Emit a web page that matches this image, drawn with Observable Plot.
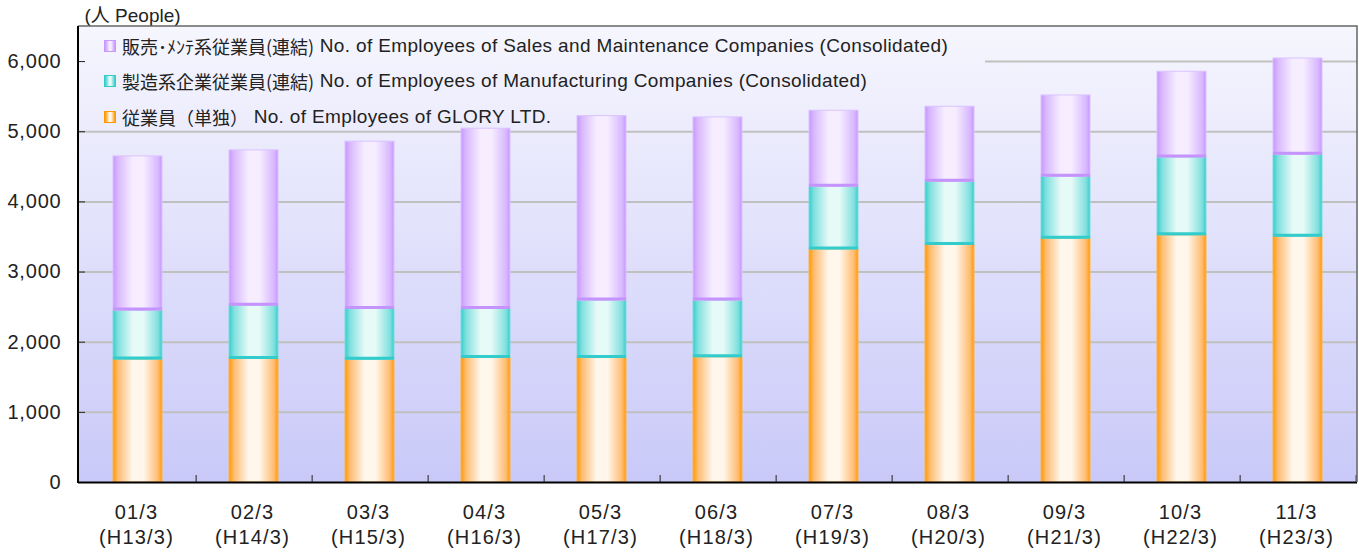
<!DOCTYPE html>
<html><head><meta charset="utf-8">
<script src="https://cdn.jsdelivr.net/npm/d3@7"></script>
<script src="https://cdn.jsdelivr.net/npm/@observablehq/plot@0.6"></script>
<style>
body{margin:0;background:#fff;}
#wrap{position:relative;width:1359px;height:554px;font-family:"Liberation Sans",Arial,"Noto Sans CJK JP",sans-serif;color:#222;}
#wrap svg{position:absolute;left:0;top:0;}
.row{position:absolute;left:104px;height:24px;line-height:24px;white-space:nowrap;font-size:19px;letter-spacing:0.35px;display:flex;align-items:center;}
.sw{width:12px;height:12px;margin-right:6px;box-sizing:border-box;}
.jp{font-family:"Noto Sans CJK JP",sans-serif;font-size:18px;letter-spacing:0;}
</style></head>
<body><div id="wrap"></div>
<script>
const years = ["01/3","02/3","03/3","04/3","05/3","06/3","07/3","08/3","09/3","10/3","11/3"];
const heisei = ["(H13/3)","(H14/3)","(H15/3)","(H16/3)","(H17/3)","(H18/3)","(H19/3)","(H20/3)","(H21/3)","(H22/3)","(H23/3)"];
const single = [1752, 1762, 1748, 1776, 1776, 1785, 3323, 3386, 3476, 3523, 3504];
const manufacturing = [698, 759, 726, 698, 817, 808, 894, 902, 883, 1111, 1168];
const sales = [2198, 2213, 2384, 2569, 2630, 2611, 1082, 1068, 1158, 1221, 1372];
const yTicks = [0, 1000, 2000, 3000, 4000, 5000, 6000];
const legendJp = ["販売･ﾒﾝﾃ系従業員(連結)", "製造系企業従業員(連結)", "従業員（単独）"];
const legendEn = ["No. of Employees of Sales and Maintenance Companies (Consolidated)", "No. of Employees of Manufacturing Companies (Consolidated)", "No. of Employees of GLORY LTD."];

const W = 1359, H = 554, mL = 78, mR = 2, mT = 26, mB = 72;
const step = (W - mL - mR) / years.length;

// stacked segments
function seg(values, base) {
  return years.map((y, i) => ({year: y, y1: base ? base[i].y2 : 0, y2: (base ? base[i].y2 : 0) + values[i]}));
}
const sSingle = seg(single, null);
const sManu = seg(manufacturing, sSingle);
const sSales = seg(sales, sManu);

const font = '"Liberation Sans",Arial,"Noto Sans CJK JP",sans-serif';

const plot = Plot.plot({
  width: W, height: H, marginLeft: mL, marginRight: mR, marginTop: mT, marginBottom: mB,
  x: {domain: years, paddingInner: 0.58, paddingOuter: 0.29, label: null},
  y: {domain: [0, 6500], label: null},
  style: {fontFamily: font, fontSize: "19px", color: "#222", background: "transparent", overflow: "visible"},
  marks: [
    Plot.frame({fill: "url(#gBg)", stroke: null}),
    Plot.ruleY(yTicks.slice(1, 6), {stroke: "#c0c0c0", strokeWidth: 2}),
    Plot.ruleY([6000], {stroke: "#c0c0c0", strokeWidth: 2, insetLeft: 985 - mL}),
    Plot.barY(sSingle, {x: "year", y1: "y1", y2: "y2", fill: "url(#gOrange)", stroke: "#ffb347", strokeWidth: 1}),
    Plot.barY(sManu, {x: "year", y1: "y1", y2: "y2", fill: "url(#gTeal)", stroke: "#7fdcdc", strokeWidth: 1}),
    Plot.barY(sSales, {x: "year", y1: "y1", y2: "y2", fill: "url(#gPurple)", stroke: "#dcc2ff", strokeWidth: 1}),
    Plot.tickY(sManu, {x: "year", y: "y1", stroke: "#33cccc", strokeWidth: 3, dy: -1.5}),
    Plot.tickY(sSales, {x: "year", y: "y1", stroke: "#c493fb", strokeWidth: 3, dy: -1.5}),
    Plot.ruleY([0], {stroke: "#000", strokeWidth: 2}),
    Plot.axisY({ticks: yTicks.slice(1), tickSize: 7, dx: 7, stroke: "#222", tickFormat: () => "", label: null}),
    Plot.axisY({ticks: yTicks, tickSize: 0, tickPadding: 17, tickFormat: d3.format(","), label: null, fontSize: 20}),
    Plot.axisX({tickSize: 7, dy: -7, dx: step / 2, stroke: "#222", tickFormat: () => "", label: null}),
    Plot.axisX({tickSize: 0, tickPadding: 19, lineHeight: 1.25, fontSize: 20, dx: -1.5, tickFormat: d => d + "\n" + heisei[years.indexOf(d)], label: null}),
    Plot.text(["(人 People)"], {frameAnchor: "top-left", dx: 6, dy: -11, textAnchor: "start", lineAnchor: "middle", fontSize: 19, fill: "#222"})
  ]
});

const svg = d3.select(plot);
svg.selectAll("[aria-label='x-axis tick label'] text").style("letter-spacing", "1.2px");
svg.selectAll("[aria-label='y-axis tick label'] text").style("letter-spacing", "0.8px");
const defs = svg.insert("defs", ":first-child");
const bg = defs.append("linearGradient").attr("id", "gBg").attr("x1", 0).attr("y1", 0).attr("x2", 0).attr("y2", 1);
bg.append("stop").attr("offset", 0).attr("stop-color", "#f6f6fe");
bg.append("stop").attr("offset", 1).attr("stop-color", "#c9c9f9");
function hgrad(id, edge, mid, light) {
  const g = defs.append("linearGradient").attr("id", id).attr("x1", 0).attr("y1", 0).attr("x2", 1).attr("y2", 0);
  [[0, edge], [0.1, mid], [0.4, light], [0.62, light], [0.92, mid], [1, edge]].forEach(([o, c]) =>
    g.append("stop").attr("offset", o).attr("stop-color", c));
}
hgrad("gPurple", "#c896ff", "#d8b8ff", "#f6eeff");
hgrad("gTeal", "#33cccc", "#80e0de", "#e6faf7");
hgrad("gOrange", "#ff9900", "#ffbb70", "#fff7ec");

// frame border (top/right) and left axis line
svg.append("g").call(g => {
  g.append("path").attr("d", `M${mL},${mT}H${W - mR}V${H - mB}`).attr("fill", "none").attr("stroke", "#666").attr("stroke-width", 1.5);
  g.append("path").attr("d", `M${mL},${mT}V${H - mB + 1}`).attr("fill", "none").attr("stroke", "#000").attr("stroke-width", 2);
});

const wrap = document.getElementById("wrap");
wrap.appendChild(plot);

const swatch = [["#c896ff", "#f6eeff"], ["#33cccc", "#e6faf7"], ["#ff9900", "#fff7ec"]];
const centers = [46, 81, 117];
legendJp.forEach((jp, i) => {
  const r = document.createElement("div");
  r.className = "row";
  r.style.top = (centers[i] - 12) + "px";
  const [e, l] = swatch[i];
  r.innerHTML = `<div class="sw" style="background:linear-gradient(90deg, ${e}, ${l} 45%, ${l} 60%, ${e});border:1px solid ${e}"></div><span class="jp">${jp}</span><span>&nbsp;${legendEn[i]}</span>`;
  wrap.appendChild(r);
});
</script>
</body></html>
